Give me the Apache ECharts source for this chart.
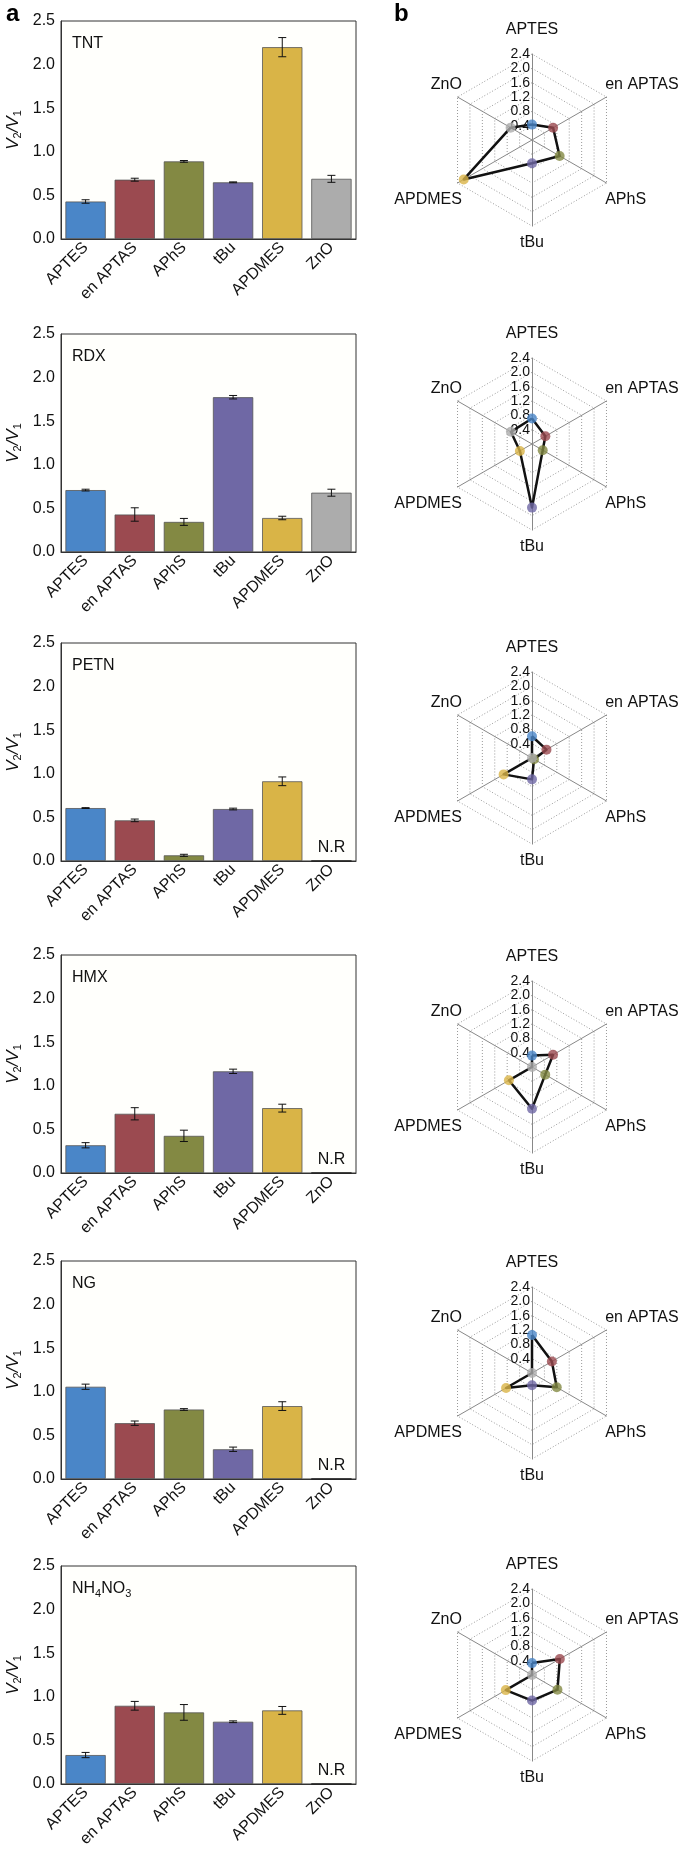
<!DOCTYPE html>
<html><head><meta charset="utf-8">
<script src="https://cdn.jsdelivr.net/npm/echarts@6/dist/echarts.min.js"></script>
<style>html,body{margin:0;padding:0;background:#fff}#wrap{position:relative;width:685px;height:1856px}.p{position:absolute;left:0;width:685px}</style>
</head><body><div id="wrap"></div>
<script>
// ---- data ----
const categories = ['APTES', 'en APTAS', 'APhS', 'tBu', 'APDMES', 'ZnO'];
const panelNames = ['TNT', 'RDX', 'PETN', 'HMX', 'NG', 'NH{s|4}NO{s|3}'];
const tntValues    = [0.43, 0.68, 0.89, 0.65, 2.20, 0.69];
const tntErr       = [0.02, 0.017, 0.01, 0.005, 0.11, 0.04];
const rdxValues    = [0.71, 0.43, 0.345, 1.775, 0.39, 0.68];
const rdxErr       = [0.01, 0.077, 0.04, 0.02, 0.02, 0.04];
const petnValues   = [0.607, 0.466, 0.065, 0.596, 0.914, 0];
const petnErr      = [0.005, 0.015, 0.012, 0.01, 0.05, 0];
const hmxValues    = [0.318, 0.679, 0.426, 1.166, 0.744, 0];
const hmxErr       = [0.03, 0.07, 0.065, 0.025, 0.045, 0];
const ngValues     = [1.058, 0.64, 0.797, 0.341, 0.836, 0];
const ngErr        = [0.03, 0.025, 0.01, 0.025, 0.05, 0];
const nh4no3Values = [0.332, 0.897, 0.821, 0.714, 0.844, 0];
const nh4no3Err    = [0.03, 0.05, 0.09, 0.01, 0.045, 0];
const notReported  = [false, false, true, true, true, true]; // ZnO "N.R" per panel
const yTicks = [0, 0.5, 1.0, 1.5, 2.0, 2.5];
const radarMax = 2.4;

const allValues = [tntValues, rdxValues, petnValues, hmxValues, ngValues, nh4no3Values];
const allErr = [tntErr, rdxErr, petnErr, hmxErr, ngErr, nh4no3Err];

// ---- layout / style ----
const colors = ['#4a86c8', '#9b4a50', '#838943', '#6f68a5', '#d9b447', '#acacac'];
const panelTops = [21, 334, 643, 955, 1261, 1566];
const plotH = 218, plotLeft = 61, plotW = 295, innerTop = 21;
const radarOffsets = [10, 1, 6, 3, 3, 0];
const radarCX = 532, radarR = 86;
const FONT = '"Liberation Sans", Arial, Helvetica, sans-serif';
// radar lays out counter-clockwise from top; order so that clockwise reads APTES, en APTAS, APhS, tBu, APDMES, ZnO
const radarOrder = [0, 5, 4, 3, 2, 1];
// per-category name padding [t,r,b,l] used to place radar names like the reference
const namePad = [[0, 0, 21, 0], [0, 0, 29, 3], [39, 0, 0, 3], [14, 0, 0, 0], [39, 0, 0, 0], [0, 0, 29, 0]];
const nameRich = {};
categories.forEach((c, j) => { nameRich['n' + j] = { fontSize: 16, color: '#111', fontFamily: FONT, padding: namePad[j] }; });

function buildPanel(i) {
  const vals = allValues[i], errs = allErr[i];
  const top = innerTop;
  const o = { animation: false, textStyle: { fontFamily: FONT }, title: [], series: [] };
  if (i === 0) {
    o.title.push({ text: 'a', left: 1, top: -3, textStyle: { fontSize: 24, fontWeight: 'bold', color: '#000', fontFamily: FONT } });
    o.title.push({ text: 'b', left: 389, top: -3, textStyle: { fontSize: 24, fontWeight: 'bold', color: '#000', fontFamily: FONT } });
  }
  o.title.push({
    text: panelNames[i], left: 67, top: top + 8,
    textStyle: { fontSize: 16, fontWeight: 'normal', color: '#111', fontFamily: FONT, lineHeight: 20,
      rich: { s: { fontSize: 11, lineHeight: 11, verticalAlign: 'bottom', color: '#111', fontFamily: FONT } } }
  });
  o.grid = { left: plotLeft, top: top, width: plotW, height: plotH, show: true, borderColor: '#333', borderWidth: 1, backgroundColor: '#fffffc' };
  o.xAxis = {
    type: 'category', data: categories,
    axisLine: { lineStyle: { color: '#333', width: 1 } }, axisTick: { show: false },
    axisLabel: { rotate: 45, fontSize: 16, color: '#111', margin: 6, fontFamily: FONT, interval: 0 }
  };
  o.yAxis = {
    type: 'value', min: yTicks[0], max: yTicks[yTicks.length - 1], interval: 0.5,
    axisLine: { show: true, lineStyle: { color: '#333' } }, axisTick: { show: false }, splitLine: { show: false },
    axisLabel: { fontSize: 16, color: '#111', margin: 6, fontFamily: FONT, formatter: v => v.toFixed(1) },
    name: '{i|V}{s|2}{i|/V}{s|1}', nameLocation: 'middle', nameRotate: 90, nameGap: 38,
    nameTextStyle: { fontFamily: FONT, lineHeight: 20, rich: {
      i: { fontSize: 17, fontStyle: 'italic', color: '#111', lineHeight: 20, fontFamily: FONT },
      s: { fontSize: 11, color: '#111', lineHeight: 11, verticalAlign: 'bottom', fontFamily: FONT } } }
  };
  o.series.push({
    type: 'bar', barWidth: '82%',
    data: vals.map((v, j) => {
      const nr = (j === 5 && notReported[i]);
      return nr ? {
        value: v, itemStyle: { color: '#222', borderColor: '#222', borderWidth: 1.5 },
        label: { show: true, position: 'top', formatter: 'N.R', fontSize: 16, color: '#111', distance: 5, fontFamily: FONT }
      } : { value: v, itemStyle: { color: colors[j], borderColor: '#555', borderWidth: 0.8 } };
    })
  });
  o.series.push({
    type: 'custom', z: 5,
    data: vals.map((v, j) => [j, v, errs[j]]).filter(d => d[2] > 0),
    encode: { x: 0, y: 1 },
    renderItem: function (params, api) {
      const c = api.value(0), v = api.value(1), e = api.value(2);
      const hi = api.coord([c, v + e]), lo = api.coord([c, v - e]);
      const hw = 4, st = { stroke: '#111', lineWidth: 1 };
      return { type: 'group', children: [
        { type: 'line', shape: { x1: hi[0], y1: hi[1], x2: lo[0], y2: lo[1] }, style: st },
        { type: 'line', shape: { x1: hi[0] - hw, y1: hi[1], x2: hi[0] + hw, y2: hi[1] }, style: st },
        { type: 'line', shape: { x1: lo[0] - hw, y1: lo[1], x2: lo[0] + hw, y2: lo[1] }, style: st }
      ] };
    }
  });

  // ---- radar ----
  const cy = top + plotH / 2 + radarOffsets[i];
  o.radar = {
    center: [radarCX, cy], radius: radarR, startAngle: 90, splitNumber: 6, shape: 'polygon',
    indicator: radarOrder.map((k, idx) => {
      const ind = { name: categories[k], min: 0, max: radarMax };
      if (idx === 0) ind.axisLabel = { show: true, showMinLabel: false, fontSize: 14, color: '#111', margin: 2, fontFamily: FONT, formatter: v => v.toFixed(1) };
      return ind;
    }),
    axisName: { color: '#111', fontSize: 16, fontFamily: FONT,
      formatter: name => '{n' + categories.indexOf(name) + '|' + name + '}', rich: nameRich },
    nameGap: -5,
    axisLine: { lineStyle: { color: '#888', width: 1 } },
    splitLine: { lineStyle: { color: '#999', type: [1, 2], width: 1 } },
    splitArea: { show: false },
    axisTick: { show: false },
    axisLabel: { show: false }
  };
  o.series.push({
    type: 'radar', symbol: 'none', z: 3,
    lineStyle: { color: '#111', width: 2.5 },
    data: [{ value: radarOrder.map(k => vals[k]) }]
  });
  o.polar = { center: [radarCX, cy], radius: radarR };
  o.angleAxis = { type: 'value', min: 0, max: 360, startAngle: 90, clockwise: true, show: false };
  o.radiusAxis = { type: 'value', min: 0, max: radarMax, show: false };
  o.series.push({
    type: 'scatter', coordinateSystem: 'polar', z: 6, symbolSize: 10,
    data: vals.map((v, j) => ({ value: [v, j * 60], itemStyle: { color: colors[j] } }))
  });
  return o;
}

const wrap = document.getElementById('wrap');
for (let i = 0; i < 6; i++) {
  const divTop = panelTops[i] - innerTop;
  const divBottom = i < 5 ? panelTops[i + 1] - innerTop : 1856;
  const d = document.createElement('div');
  d.className = 'p';
  d.style.top = divTop + 'px';
  d.style.height = (divBottom - divTop) + 'px';
  wrap.appendChild(d);
  const ch = echarts.init(d, null, { renderer: 'canvas' });
  ch.setOption(buildPanel(i));
}
</script></body></html>
